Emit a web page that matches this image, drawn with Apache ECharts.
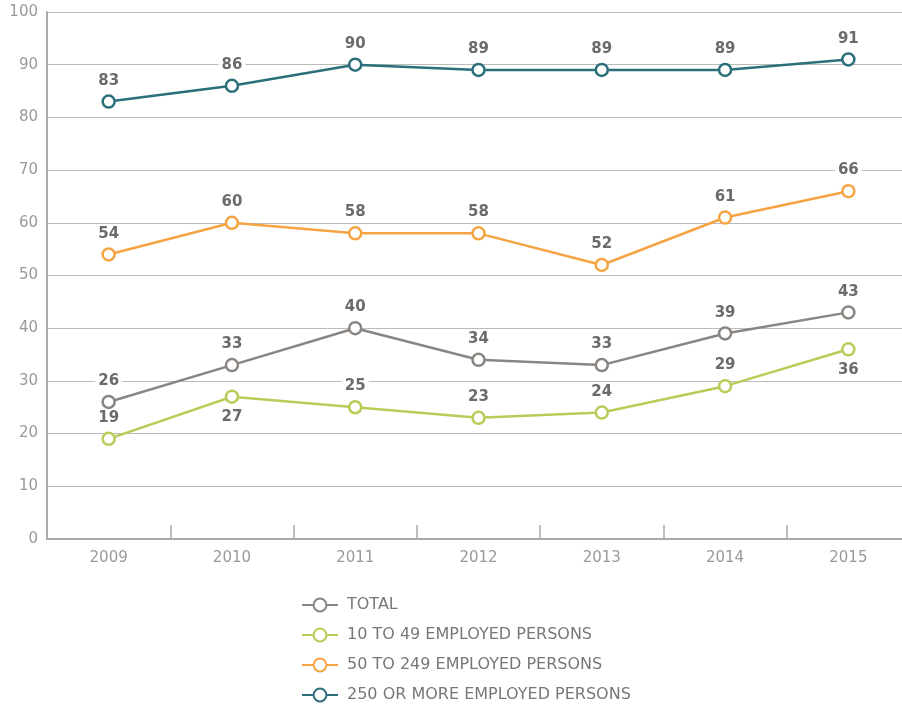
<!DOCTYPE html>
<html>
<head>
<meta charset="utf-8">
<script src="https://cdn.jsdelivr.net/npm/echarts@6/dist/echarts.min.js"></script>
<style>
  html, body { margin: 0; padding: 0; background: #fff; }
  #chart { width: 902px; height: 705px; }
</style>
</head>
<body>
<div id="chart"></div>
<script>
const years = ['2009', '2010', '2011', '2012', '2013', '2014', '2015'];
const total = [26, 33, 40, 34, 33, 39, 43];
const small = [19, 27, 25, 23, 24, 29, 36];
const medium = [54, 60, 58, 58, 52, 61, 66];
const large = [83, 86, 90, 89, 89, 89, 91];
// label placement for the small-firm series (some sit below the marker)
const smallLabelPos = ['top', 'bottom', 'top', 'top', 'top', 'top', 'bottom'];

const seriesNames = ['TOTAL', '10 TO 49 EMPLOYED PERSONS', '50 TO 249 EMPLOYED PERSONS', '250 OR MORE EMPLOYED PERSONS'];
const colors = ['#8a8581', '#b8cc58', '#f6a443', '#2b6f7b'];

const labelStyle = {
  show: true,
  position: 'top',
  distance: 5,
  color: '#6b6b6b',
  fontFamily: 'DejaVu Sans',
  fontSize: 15,
  fontWeight: 'bold',
  backgroundColor: '#fff',
  padding: [1, 3]
};

function makeSeries(name, data, color, positions) {
  return {
    name: name,
    type: 'line',
    data: data.map((v, i) => positions
      ? { value: v, label: { position: positions[i] } }
      : v),
    symbol: 'circle',
    symbolSize: 12,
    showAllSymbol: true,
    lineStyle: { color: color, width: 2.5 },
    itemStyle: { color: '#fff', borderColor: color, borderWidth: 2.5 },
    label: Object.assign({}, labelStyle),
    emphasis: { disabled: true },
    z: 3
  };
}

const chart = echarts.init(document.getElementById('chart'), null, { renderer: 'canvas' });
chart.setOption({
  animation: false,
  backgroundColor: '#fff',
  color: colors,
  // plot area runs a little past the right edge of the canvas
  grid: { left: 47, top: 12, width: 863, height: 527, containLabel: false, outerBoundsMode: 'none' },
  legend: {
    orient: 'vertical',
    left: 301,
    top: 597,
    height: 120,
    padding: 0,
    itemGap: 14,
    itemWidth: 36,
    itemHeight: 16,
    textStyle: { color: '#777', fontSize: 16, fontFamily: 'DejaVu Sans', padding: [0, 0, 0, 4] },
    data: seriesNames
  },
  xAxis: {
    type: 'category',
    data: years,
    boundaryGap: true,
    axisLine: { lineStyle: { color: '#aaa', width: 2 } },
    axisTick: { show: true, inside: true, length: 14, lineStyle: { color: '#aaa', width: 1.5 } },
    axisLabel: { color: '#999', fontSize: 15, fontFamily: 'DejaVu Sans', margin: 12 }
  },
  yAxis: {
    type: 'value',
    min: 0,
    max: 100,
    interval: 10,
    axisLine: { show: true, lineStyle: { color: '#aaa', width: 2 } },
    axisTick: { show: false },
    axisLabel: { color: '#999', fontSize: 15, fontFamily: 'DejaVu Sans', margin: 9 },
    splitLine: { lineStyle: { color: '#bbb', width: 1 } }
  },
  series: [
    makeSeries(seriesNames[0], total, colors[0]),
    makeSeries(seriesNames[1], small, colors[1], smallLabelPos),
    makeSeries(seriesNames[2], medium, colors[2]),
    makeSeries(seriesNames[3], large, colors[3])
  ]
});
</script>
</body>
</html>
